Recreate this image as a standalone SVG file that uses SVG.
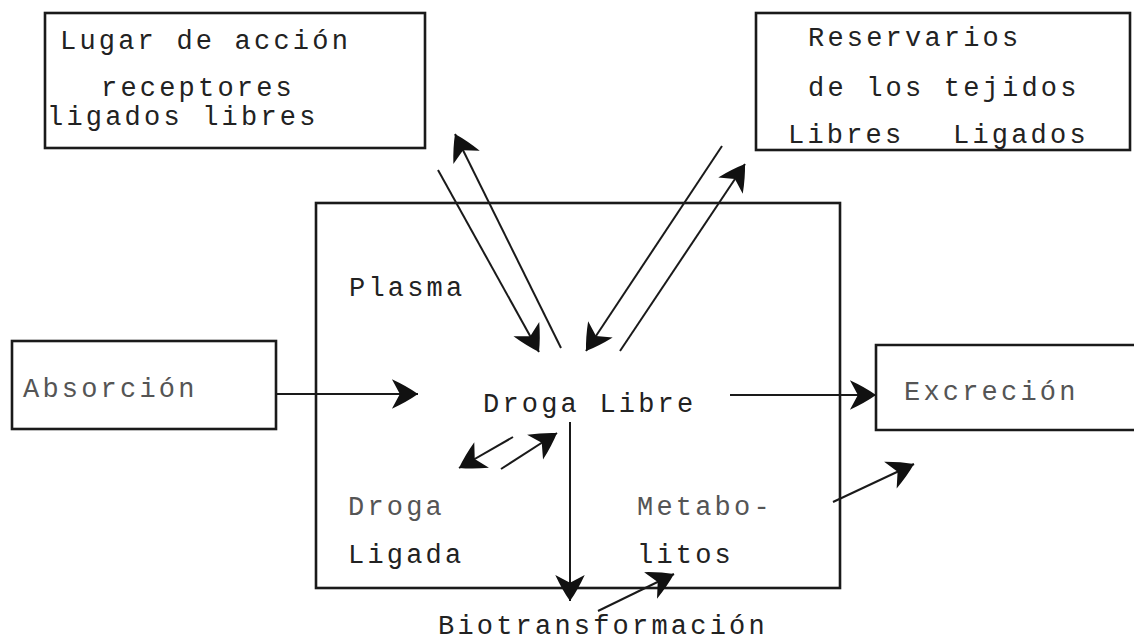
<svg xmlns="http://www.w3.org/2000/svg" width="1134" height="644" viewBox="0 0 1134 644">
  <style>
    .box { fill: none; stroke: #1a1a1a; stroke-width: 2.6; }
    .t { font-family: "Liberation Mono", "DejaVu Sans Mono", monospace; font-size: 27px; letter-spacing: 3.2px; fill: #222; }
    .faint { fill: #555; }
    .arr { fill: none; stroke: #1a1a1a; stroke-width: 2; marker-end: url(#head); }
  </style>
  <defs>
    <marker id="head" markerUnits="userSpaceOnUse" markerWidth="34" markerHeight="34" viewBox="-26 -15 28 30" refX="0" refY="0" orient="auto">
      <path d="M0,0 Q-10,-7 -23,-13 L-16,0 L-23,13 Q-10,7 0,0 Z" fill="#111"/>
    </marker>
  </defs>
  <rect width="1134" height="644" fill="#ffffff"/>

  <g id="lugar-accion">
    <rect class="box" x="45" y="13" width="380" height="135"/>
    <text class="t" x="60" y="49">Lugar de acción</text>
    <text class="t" x="101" y="96">receptores</text>
    <text class="t" x="47" y="125">ligados libres</text>
  </g>

  <g id="reservarios">
    <rect class="box" x="756" y="13" width="374" height="137"/>
    <text class="t" x="808" y="46">Reservarios</text>
    <text class="t" x="808" y="96">de los tejidos</text>
    <text class="t" x="788" y="143">Libres<tspan x="953">Ligados</tspan></text>
  </g>

  <g id="plasma">
    <rect class="box" x="316" y="203" width="524" height="385"/>
    <text class="t" x="349" y="296">Plasma</text>
  </g>

  <g id="droga-libre">
    <text class="t" x="483" y="412">Droga Libre</text>
  </g>

  <g id="droga-ligada">
    <text class="t faint" x="348" y="515">Droga</text>
    <text class="t" x="348" y="563">Ligada</text>
  </g>

  <g id="metabolitos">
    <text class="t faint" x="637" y="515">Metabo-</text>
    <text class="t" x="637" y="563">litos</text>
  </g>

  <g id="absorcion">
    <rect class="box" x="12" y="341" width="264" height="88"/>
    <text class="t faint" x="23" y="397">Absorción</text>
  </g>

  <g id="excrecion">
    <path class="box" d="M1134,345 H876 V430 H1134"/>
    <text class="t faint" x="904" y="400">Excreción</text>
  </g>

  <g id="biotransformacion">
    <text class="t" x="438" y="634">Biotransformación</text>
  </g>

  <g id="connectors">
    <line class="arr" x1="276" y1="394" x2="418" y2="394"/>
    <line class="arr" x1="730" y1="395" x2="876" y2="395"/>
    <line class="arr" x1="438" y1="170" x2="539" y2="352"/>
    <line class="arr" x1="561" y1="348" x2="455" y2="134"/>
    <line class="arr" x1="722" y1="146" x2="586" y2="351"/>
    <line class="arr" x1="620" y1="351" x2="745" y2="164"/>
    <line class="arr" x1="570" y1="422" x2="570" y2="601"/>
    <line class="arr" x1="513" y1="437" x2="459" y2="468"/>
    <line class="arr" x1="501" y1="469" x2="557" y2="433"/>
    <line class="arr" x1="598" y1="611" x2="674" y2="574"/>
    <line class="arr" x1="833" y1="502" x2="914" y2="464"/>
  </g>
</svg>
